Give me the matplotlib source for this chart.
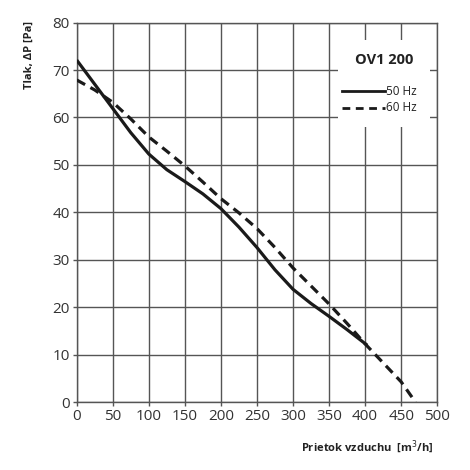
import matplotlib.pyplot as plt
import numpy as np

plt.rcParams['font.family'] = ['Open Sans', 'DejaVu Sans']

# 50 Hz krivka
x50 = [0, 25, 50, 75, 100, 125, 150, 175, 200, 225, 250, 275, 300, 325, 350, 375, 403]
y50 = [72.1, 67.0, 61.9, 56.8, 52.3, 49.0, 46.5, 43.9, 40.8, 36.9, 32.6, 27.9, 23.8, 20.8, 18.1, 15.3, 12.0]

# 60 Hz krivka
x60 = [0, 25, 50, 75, 100, 125, 150, 175, 200, 225, 250, 275, 300, 325, 350, 375, 400, 425, 450, 470]
y60 = [67.9, 65.8, 63.2, 59.7, 55.9, 52.9, 49.8, 46.4, 42.9, 39.9, 36.6, 32.6, 28.3, 24.5, 20.7, 16.6, 12.3, 8.3, 4.3, 0]

xticks = np.arange(0, 501, 50)
yticks = np.arange(0, 81, 10)

fig = plt.figure(figsize=(4.7, 4.7), dpi=100)
ax = fig.add_axes([0.1632, 0.1442, 0.767, 0.8078])

gc = '#555555'
ax.set_xlim(0, 500)
ax.set_ylim(0, 80)
ax.set_xticks(xticks)
ax.set_yticks(yticks)
ax.grid(True, color=gc, linewidth=1.0)
ax.set_axisbelow(True)
for s in ax.spines.values():
    s.set_color(gc)
    s.set_linewidth(1.0)
ax.tick_params(length=3, width=1.0, color=gc, labelsize=11, labelcolor='#333333', pad=2)

# biely box pod legendou
ax.fill_between([362, 490], 58, 76.3, color='white', zorder=1.5, linewidth=0)

ax.plot(x50, y50, color='#1a1a1a', linewidth=2.3, zorder=3, solid_capstyle='butt', solid_joinstyle='round')
ax.plot(x60, y60, color='#1a1a1a', linewidth=2.3, linestyle=(0, (3.0, 1.9)), zorder=3)

ax.text(426.5, 72.1, 'OV1 200', ha='center', va='center', fontsize=10.5, fontweight='bold', color='#222222', zorder=4)
ax.plot([368.5, 427], [65.5, 65.5], color='#1a1a1a', linewidth=2.0, zorder=4)
ax.plot([368.5, 427], [62.0, 62.0], color='#1a1a1a', linewidth=2.0, linestyle=(0, (2.8, 2.0)), zorder=4)
ax.text(429, 65.5, '50 Hz', ha='left', va='center', fontsize=8.5, color='#222222', zorder=4)
ax.text(429, 62.0, '60 Hz', ha='left', va='center', fontsize=8.5, color='#222222', zorder=4)

fig.text(0.062, 0.955, 'Tlak, ΔP [Pa]', rotation=90, ha='center', va='top', fontsize=8, fontweight='bold', color='#222222')
fig.text(0.922, 0.047, 'Prietok vzduchu  [m$^3$/h]', ha='right', va='center', fontsize=8, fontweight='bold', color='#222222')

fig.savefig('out.png', dpi=100)
